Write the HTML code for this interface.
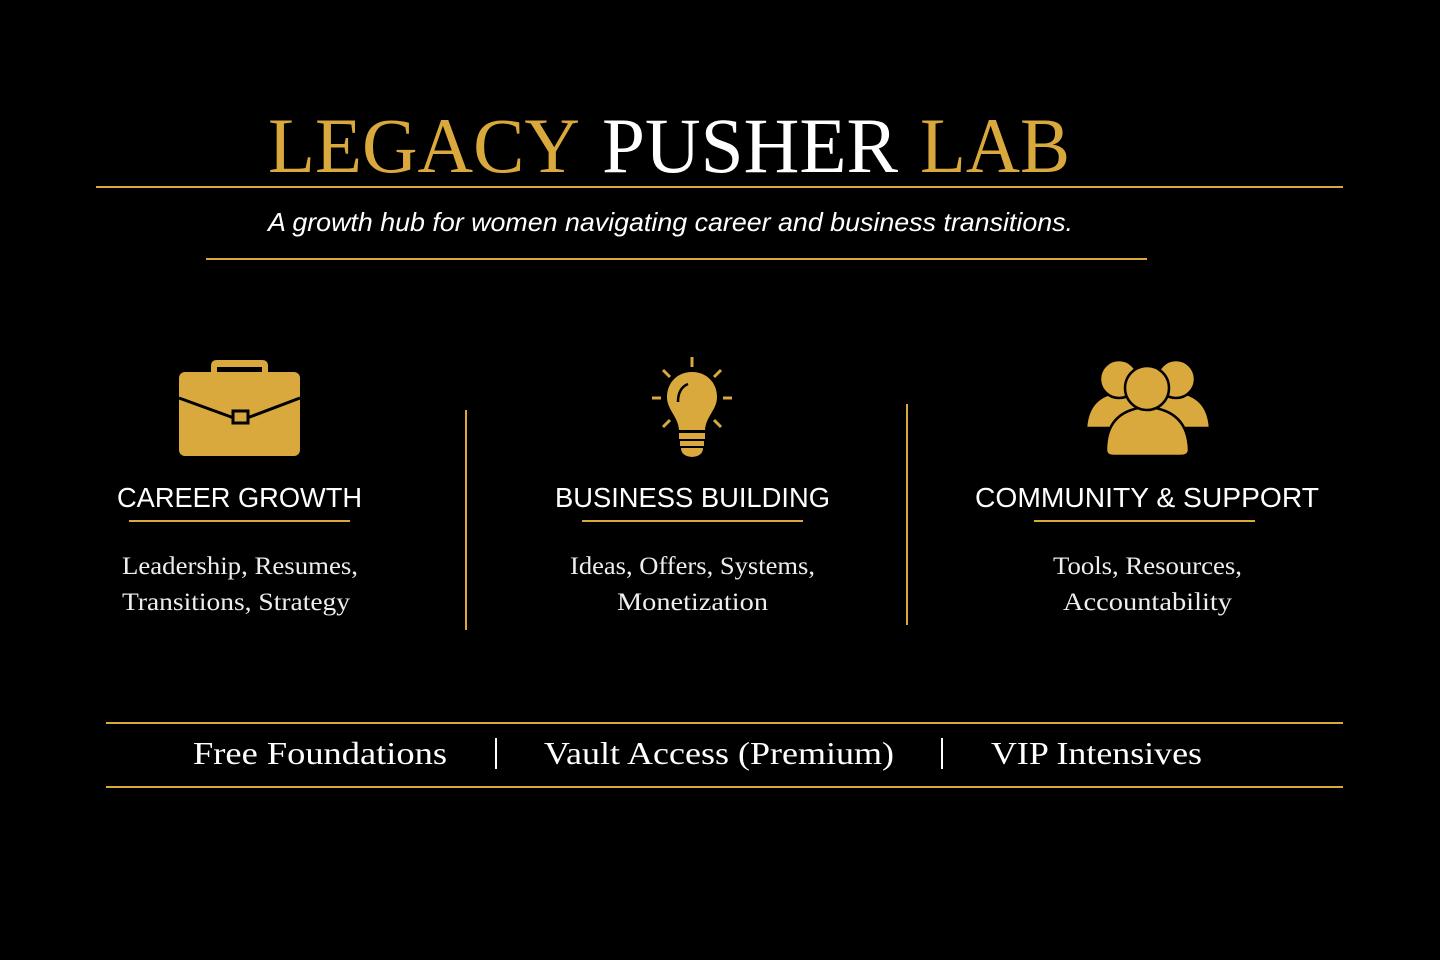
<!DOCTYPE html>
<html><head><style>html,body{margin:0;padding:0;background:#000;}svg{display:block}</style></head>
<body>
<svg width="1440" height="960" viewBox="0 0 1440 960" xmlns="http://www.w3.org/2000/svg">
<rect width="1440" height="960" fill="#000"/>
<g font-family="Liberation Serif, serif">
<text x="268" y="172" font-size="78" fill="#d9a93e" textLength="312" lengthAdjust="spacingAndGlyphs">LEGACY</text>
<text x="602" y="172" font-size="78" fill="#fff" textLength="296" lengthAdjust="spacingAndGlyphs">PUSHER</text>
<text x="920" y="172" font-size="78" fill="#d9a93e" textLength="150" lengthAdjust="spacingAndGlyphs">LAB</text>
</g>
<line x1="96" y1="187" x2="1343" y2="187" stroke="#d9a93e" stroke-width="2"/>
<text x="268" y="231" font-family="Liberation Sans, sans-serif" font-style="italic" font-size="26" fill="#fff" textLength="805" lengthAdjust="spacingAndGlyphs">A growth hub for women navigating career and business transitions.</text>
<line x1="206" y1="259" x2="1147" y2="259" stroke="#d9a93e" stroke-width="2"/>

<!-- briefcase -->
<g fill="#d9a93e">
<path d="M211 374 V366 Q211 360 217 360 H262 Q268 360 268 366 V374 H262 V367 H217 V374Z"/>
<rect x="179" y="372" width="121" height="84" rx="6"/>
</g>
<path d="M179 398 L234 418 M247 418 L300 398" stroke="#000" stroke-width="3" fill="none"/>
<rect x="233" y="411" width="15" height="12" fill="#d9a93e" stroke="#000" stroke-width="3"/>

<!-- bulb -->
<g stroke="#d9a93e" stroke-width="3" stroke-linecap="butt">
<line x1="692" y1="357" x2="692" y2="367"/>
<line x1="663" y1="370" x2="670" y2="377"/>
<line x1="721" y1="370" x2="714" y2="377"/>
<line x1="652" y1="398" x2="661" y2="398"/>
<line x1="723" y1="398" x2="732" y2="398"/>
<line x1="663" y1="427" x2="670" y2="420"/>
<line x1="721" y1="427" x2="714" y2="420"/>
</g>
<g fill="#d9a93e">
<path d="M692 372 C677 372 667 383 667 397 C667 410 678 416 679 430 H705 C706 416 717 410 717 397 C717 383 707 372 692 372Z"/>
<rect x="679" y="433" width="26" height="6"/>
<rect x="680" y="441" width="24" height="5"/>
<path d="M681 448 H703 Q703 456 692 457 Q681 456 681 448Z"/>
</g>
<path d="M688 384 Q678 388 678 402" stroke="#000" stroke-width="2.5" fill="none"/>

<!-- people -->
<g fill="#d9a93e" stroke="#000" stroke-width="2.5">
<path d="M1086 428 Q1088 395 1120 392 Q1150 395 1152 428Z"/>
<path d="M1144 428 Q1146 395 1176 392 Q1208 395 1210 428Z"/>
<circle cx="1119" cy="379" r="19"/>
<circle cx="1176" cy="379" r="19"/>
<path d="M1106 450 Q1106 410 1147 407 Q1188 410 1189 450 Q1189 456 1180 456 H1114 Q1106 456 1106 450Z"/>
<circle cx="1147" cy="388" r="22"/>
</g>

<g font-family="Liberation Sans, sans-serif" font-size="28" fill="#fff">
<text x="117" y="507" textLength="245" lengthAdjust="spacingAndGlyphs">CAREER GROWTH</text>
<text x="555" y="507" textLength="275" lengthAdjust="spacingAndGlyphs">BUSINESS BUILDING</text>
<text x="975" y="507" textLength="344" lengthAdjust="spacingAndGlyphs">COMMUNITY &amp; SUPPORT</text>
</g>
<g stroke="#d9a93e" stroke-width="2">
<line x1="129" y1="521" x2="350" y2="521"/>
<line x1="582" y1="521" x2="803" y2="521"/>
<line x1="1034" y1="521" x2="1255" y2="521"/>
<line x1="466" y1="410" x2="466" y2="630"/>
<line x1="907" y1="404" x2="907" y2="625"/>
<line x1="106" y1="723" x2="1343" y2="723"/>
<line x1="106" y1="787" x2="1343" y2="787"/>
</g>
<g font-family="Liberation Serif, serif" font-size="25" fill="#eee">
<text x="122" y="574" textLength="236" lengthAdjust="spacingAndGlyphs">Leadership, Resumes,</text>
<text x="122" y="610" textLength="228" lengthAdjust="spacingAndGlyphs">Transitions, Strategy</text>
<text x="570" y="574" textLength="245" lengthAdjust="spacingAndGlyphs">Ideas, Offers, Systems,</text>
<text x="617" y="610" textLength="151" lengthAdjust="spacingAndGlyphs">Monetization</text>
<text x="1053" y="574" textLength="189" lengthAdjust="spacingAndGlyphs">Tools, Resources,</text>
<text x="1063" y="610" textLength="169" lengthAdjust="spacingAndGlyphs">Accountability</text>
</g>
<g font-family="Liberation Serif, serif" font-size="32" fill="#fff">
<text x="193" y="764" textLength="254" lengthAdjust="spacingAndGlyphs">Free Foundations</text>
<text x="544" y="764" textLength="350" lengthAdjust="spacingAndGlyphs">Vault Access (Premium)</text>
<text x="991" y="764" textLength="211" lengthAdjust="spacingAndGlyphs">VIP Intensives</text>
</g>
<line x1="496" y1="738" x2="496" y2="769" stroke="#fff" stroke-width="2"/>
<line x1="942" y1="738" x2="942" y2="769" stroke="#fff" stroke-width="2"/>
</svg>
</body></html>
